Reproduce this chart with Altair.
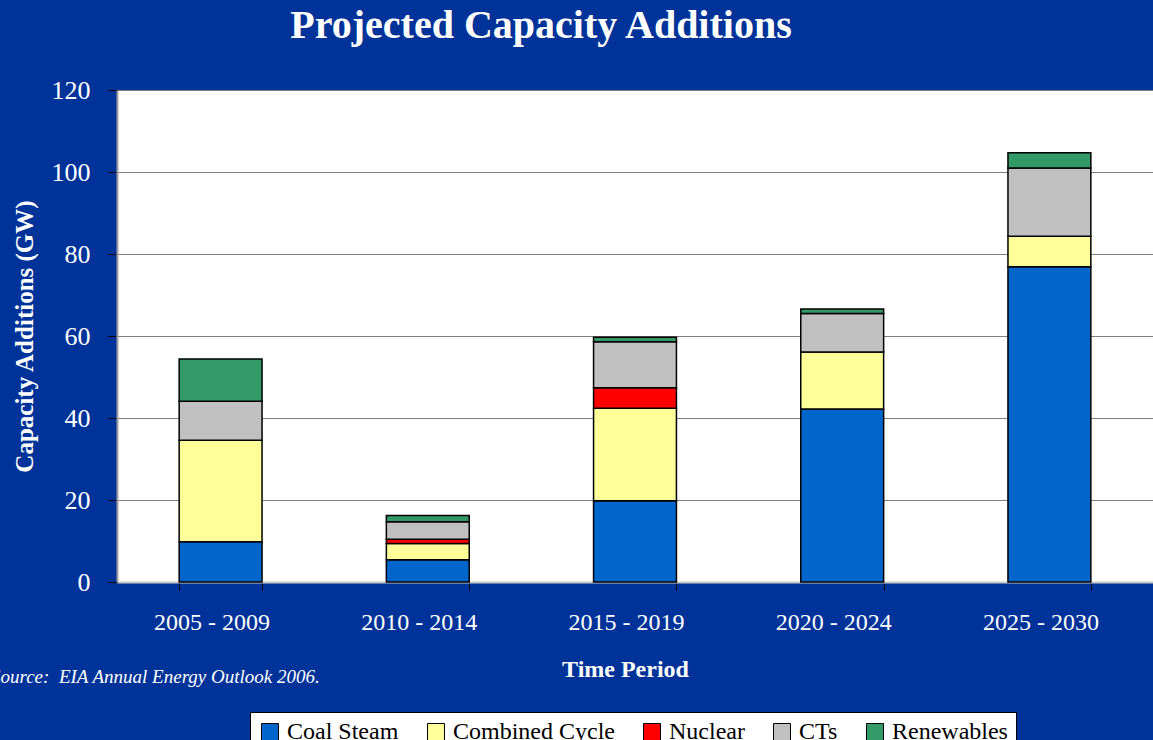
import altair as alt
import pandas as pd

# Capacity additions by period (GW), read bottom to top of each stack
periods = ["2005 - 2009", "2010 - 2014", "2015 - 2019", "2020 - 2024", "2025 - 2030"]
coal_steam = [9.8, 5.4, 19.8, 42.2, 76.9]
combined_cycle = [24.8, 4.0, 22.6, 13.9, 7.4]
nuclear = [0.0, 1.0, 5.0, 0.0, 0.0]
cts = [9.5, 4.3, 11.2, 9.4, 16.7]
renewables = [10.3, 1.5, 1.1, 1.1, 3.7]

series_names = ["Coal Steam", "Combined Cycle", "Nuclear", "CTs", "Renewables"]
series_colors = ["#0066CC", "#FFFF99", "#FF0000", "#C0C0C0", "#339966"]
y_ticks = [0, 20, 40, 60, 80, 100, 120]
chart_title = "Projected Capacity Additions"
source_note = "Source:\u00a0 EIA Annual Energy Outlook 2006."

SERIF = "Liberation Serif"

rows = []
for rank, (name, vals) in enumerate(zip(series_names,
                                         [coal_steam, combined_cycle, nuclear, cts, renewables])):
    for period, v in zip(periods, vals):
        if v > 0:
            rows.append({"period": period, "series": name, "value": v, "rank": rank})
df = pd.DataFrame(rows)

bars = alt.Chart(df).mark_bar(stroke="black", strokeWidth=1.5).encode(
    x=alt.X(
        "period:N",
        sort=periods,
        scale=alt.Scale(paddingInner=0.6, paddingOuter=0.3),
        axis=alt.Axis(
            title="Time Period",
            labelAngle=0,
            labelOffset=-9,
            tickBand="extent",
            tickColor="black",
            tickSize=8,
            domainColor="#C8C8C8",
            domainWidth=2,
            labelPadding=20,
            titlePadding=23,
            titleX=508,
        ),
    ),
    y=alt.Y(
        "value:Q",
        stack="zero",
        scale=alt.Scale(domain=[0, 120], nice=False),
        axis=alt.Axis(
            values=y_ticks,
            title="Capacity Additions (GW)",
            titleFontSize=25,
            labelFontSize=26,
            tickColor="black",
            tickSize=9,
            domainColor="#A0A0A0",
            domainWidth=2,
            gridColor="#808080",
            labelPadding=18,
            titlePadding=14,
        ),
    ),
    color=alt.Color(
        "series:N",
        scale=alt.Scale(domain=series_names, range=series_colors),
        legend=alt.Legend(
            title=None,
            orient="none",
            direction="horizontal",
            legendX=133,
            legendY=622,
            symbolType="square",
            symbolSize=289,
            symbolStrokeColor="black",
            symbolStrokeWidth=1,
            labelFont=SERIF,
            labelFontSize=24,
            labelColor="black",
            labelLimit=400,
            labelOffset=5,
            columnPadding=25,
            fillColor="white",
            strokeColor="black",
            padding=8,
        ),
    ),
    order=alt.Order("rank:Q", sort="ascending"),
)

title_text = alt.Chart(pd.DataFrame({"t": [chart_title]})).mark_text(
    align="center", baseline="alphabetic", font=SERIF, fontWeight="bold",
    fontSize=40, color="white",
).encode(text="t:N", x=alt.value(424), y=alt.value(-52))

note = alt.Chart(pd.DataFrame({"note": [source_note]})).mark_text(
    align="left", baseline="alphabetic", font=SERIF, fontStyle="italic",
    fontSize=19, color="white",
).encode(text="note:N", x=alt.value(-126), y=alt.value(593))

chart = (
    alt.layer(bars, title_text, note)
    .properties(
        width=1036,
        height=492,
        autosize=alt.AutoSizeParams(type="none"),
        padding={"left": 117, "top": 90, "right": 0, "bottom": 158},
        background="#003399",
    )
    .configure_view(fill="white", stroke="transparent")
    .configure_axis(
        labelFont=SERIF,
        labelFontSize=24,
        labelColor="white",
        titleFont=SERIF,
        titleFontSize=24,
        titleFontWeight="bold",
        titleColor="white",
    )
    .configure_axisX(grid=False)
)

chart.save("out.html", embed_options={"renderer": "svg", "actions": False})
